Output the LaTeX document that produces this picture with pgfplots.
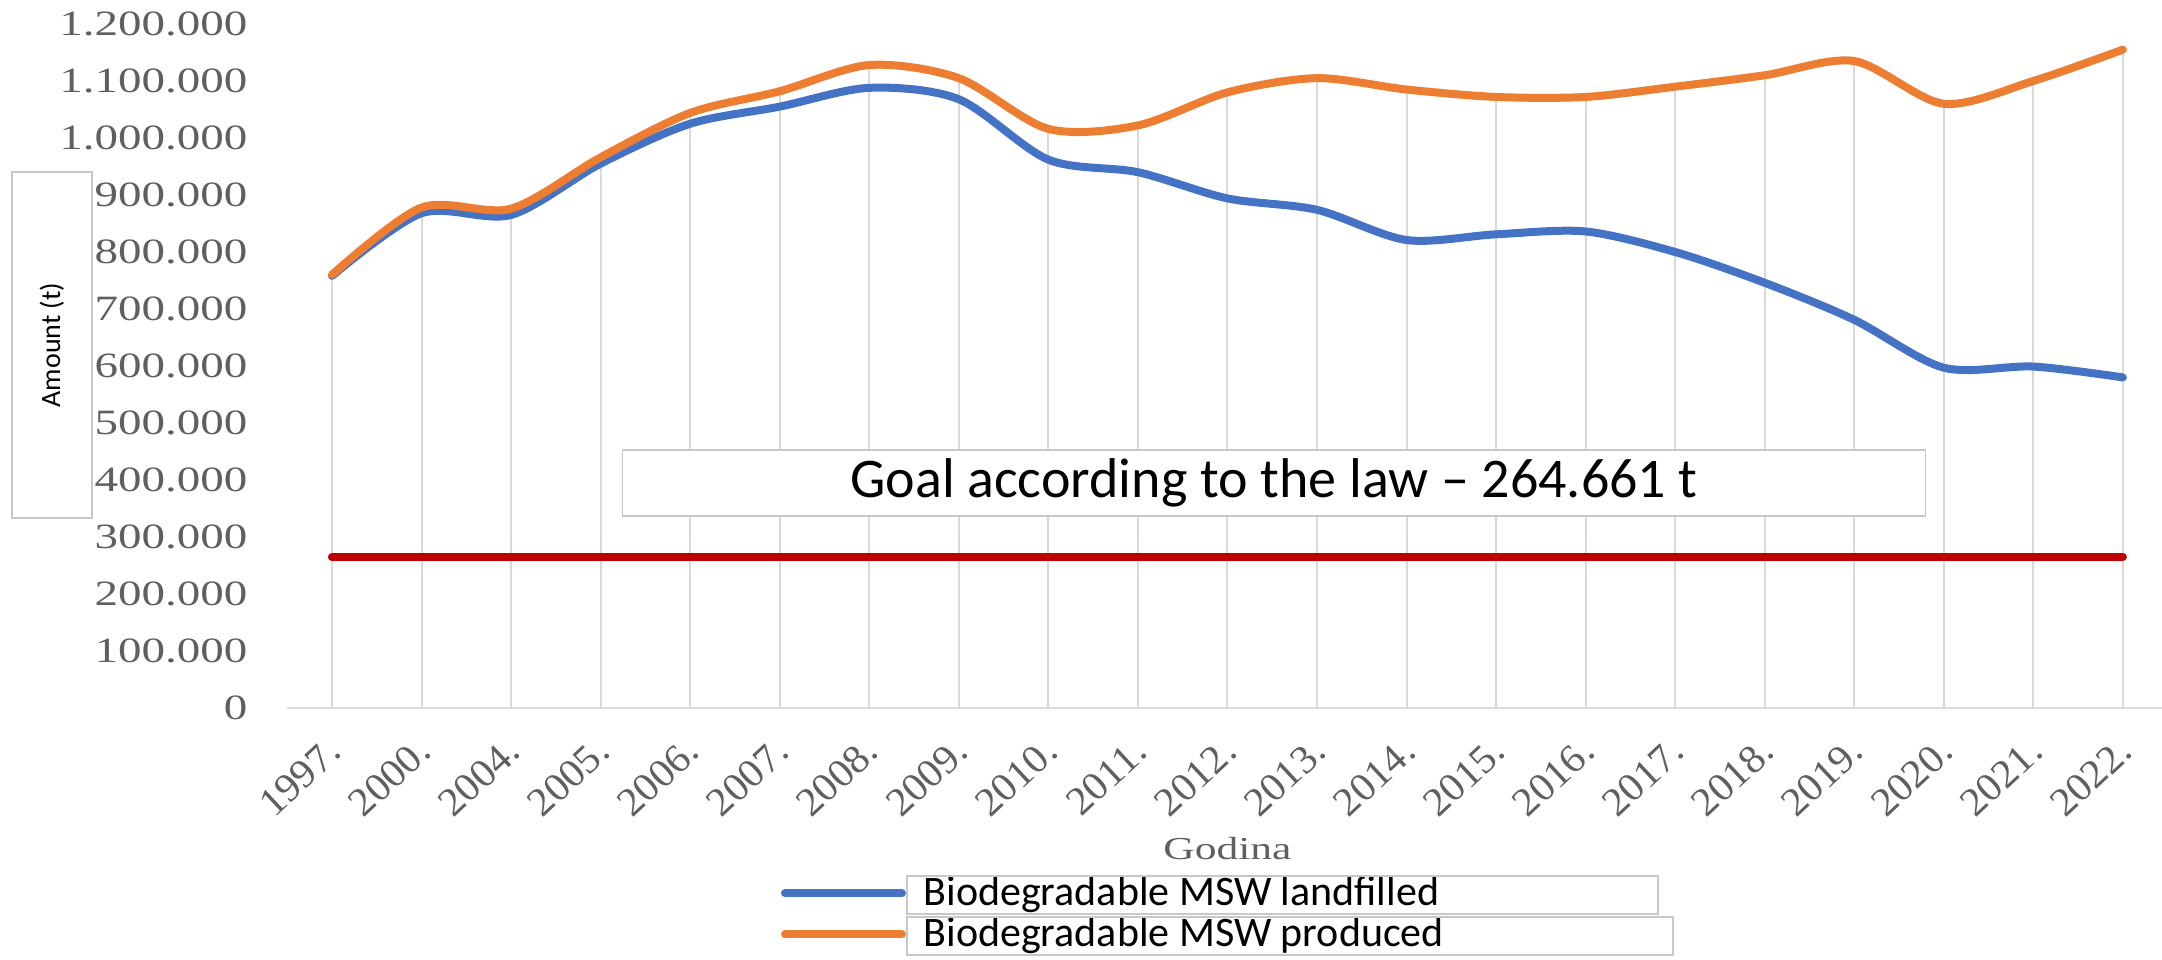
\documentclass[border=0pt]{standalone}
\usepackage{pgfplots}
\pgfplotsset{compat=1.18}
\usepackage{pgfplotstable}
\usepackage{fontspec}
\setmainfont{Liberation Serif}
\newfontfamily\calibri{Carlito}
\newfontfamily\ytickfont[FakeStretch=1.32]{Liberation Serif}
\newfontfamily\xtickfont[FakeStretch=1.05]{Liberation Serif}
\newfontfamily\godfont[FakeStretch=1.36]{Liberation Serif}
\definecolor{xlblue}{HTML}{4472C4}
\definecolor{xlorange}{HTML}{ED7D31}
\definecolor{xlred}{RGB}{190,0,0}
\definecolor{tickgray}{RGB}{95,95,95}
\definecolor{gridgray}{RGB}{217,217,217}
\definecolor{boxgray}{RGB}{200,200,200}

\pgfplotstableread{
x year landfilled produced
0  1997 758000  760000
1  2000 868000  878000
2  2004 865000  876000
3  2005 955000  966000
4  2006 1025000 1044000
5  2007 1055000 1082000
6  2008 1088000 1128000
7  2009 1068000 1105000
8  2010 962000  1016000
9  2011 940000  1022000
10 2012 894000  1080000
11 2013 874000  1105000
12 2014 821000  1085000
13 2015 831000  1072000
14 2016 836000  1072000
15 2017 800000  1090000
16 2018 746000  1110000
17 2019 681000  1135000
18 2020 597000  1060000
19 2021 599000  1100000
20 2022 580000  1155000
}\datatable

\begin{document}
\begin{tikzpicture}[x=1pt,y=1pt]
\useasboundingbox (0,0) rectangle (540.5,240);
\begin{axis}[
  at={(71.8pt,63pt)}, anchor=south west,
  scale only axis, width=470.1pt, height=171pt,
  xmin=-0.5, xmax=20.5, ymin=0, ymax=1200000,
  xtick={0,...,20},
  xticklabels={1997.,2000.,2004.,2005.,2006.,2007.,2008.,2009.,2010.,2011.,2012.,2013.,2014.,2015.,2016.,2017.,2018.,2019.,2020.,2021.,2022.},
  ytick={0,100000,...,1200000},
  scaled y ticks=false,
  /pgf/number format/.cd, fixed, 1000 sep={.}, assume math mode=true,
  /pgfplots/.cd,
  axis lines*=left,
  y axis line style={draw=none},
  x axis line style={gridgray, line width=0.7pt},
  major tick length=0pt,
  xmajorgrids=false, ymajorgrids=false,
  yticklabel style={font=\ytickfont\fontsize{8.9}{10}\selectfont, text=tickgray, anchor=east, inner sep=0pt, xshift=-9.75pt},
  xticklabel style={font=\xtickfont\fontsize{10}{11}\selectfont, text=tickgray, inner sep=0pt, xshift=3pt, yshift=-11.5pt, rotate=43, anchor=base east},
  xlabel={Godina},
  xlabel style={font=\godfont\fontsize{8}{10}\selectfont, text=tickgray, at={(axis description cs:0.5,0)}, anchor=center, yshift=-35.25pt},
  clip=false,
  legend cell align=left,
  legend style={draw=none, fill=none, inner sep=0pt, outer sep=0pt, row sep=1pt, column sep=0pt,
    at={(axis description cs:0.2626,-0.2442)}, anchor=north west,
    nodes={inner sep=0pt, outer sep=0pt, font=\calibri\fontsize{10.5}{12}\selectfont}},
  legend image code/.code={\draw[#1, line width=2pt, line cap=round] (0pt,0pt) -- (29.25pt,0pt);},
]
% drop lines from the upper series down to the axis
\addplot[ycomb, gridgray, line width=0.5pt, forget plot] table[x=x, y=produced] {\datatable};
\addplot[xlred, line width=2pt, line cap=round, forget plot] coordinates {(0,264661) (20,264661)};
\addplot[xlblue, line width=2pt, smooth, line cap=round] table[x=x, y=landfilled] {\datatable};
\addlegendentry{\setlength{\fboxsep}{0.5pt}\fcolorbox{boxgray}{white}{\parbox[c][8.2pt][c]{186.45pt}{\hspace{3.5pt}Biodegradable MSW landfilled}}}
\addplot[xlorange, line width=2pt, smooth, line cap=round] table[x=x, y=produced] {\datatable};
\addlegendentry{\setlength{\fboxsep}{0.5pt}\fcolorbox{boxgray}{white}{\parbox[c][8.2pt][c]{190.2pt}{\hspace{3.5pt}Biodegradable MSW produced}}}
\node[draw=boxgray, fill=white, line width=0.4pt, minimum width=325.75pt, minimum height=16.5pt, inner sep=0pt,
  font=\calibri\fontsize{14}{16}\selectfont] at (rel axis cs:0.5248,0.3289) {Goal according to the law \textendash{} 264.661 t};
\node[draw=boxgray, fill=white, line width=0.4pt, minimum width=20pt, minimum height=86.5pt, inner sep=0pt]
  at (rel axis cs:-0.1251,0.5307) {};
\node[rotate=90, font=\calibri\fontsize{7}{9}\selectfont, inner sep=0pt] at (rel axis cs:-0.1251,0.5307) {Amount (t)};
\end{axis}
\end{tikzpicture}
\end{document}
